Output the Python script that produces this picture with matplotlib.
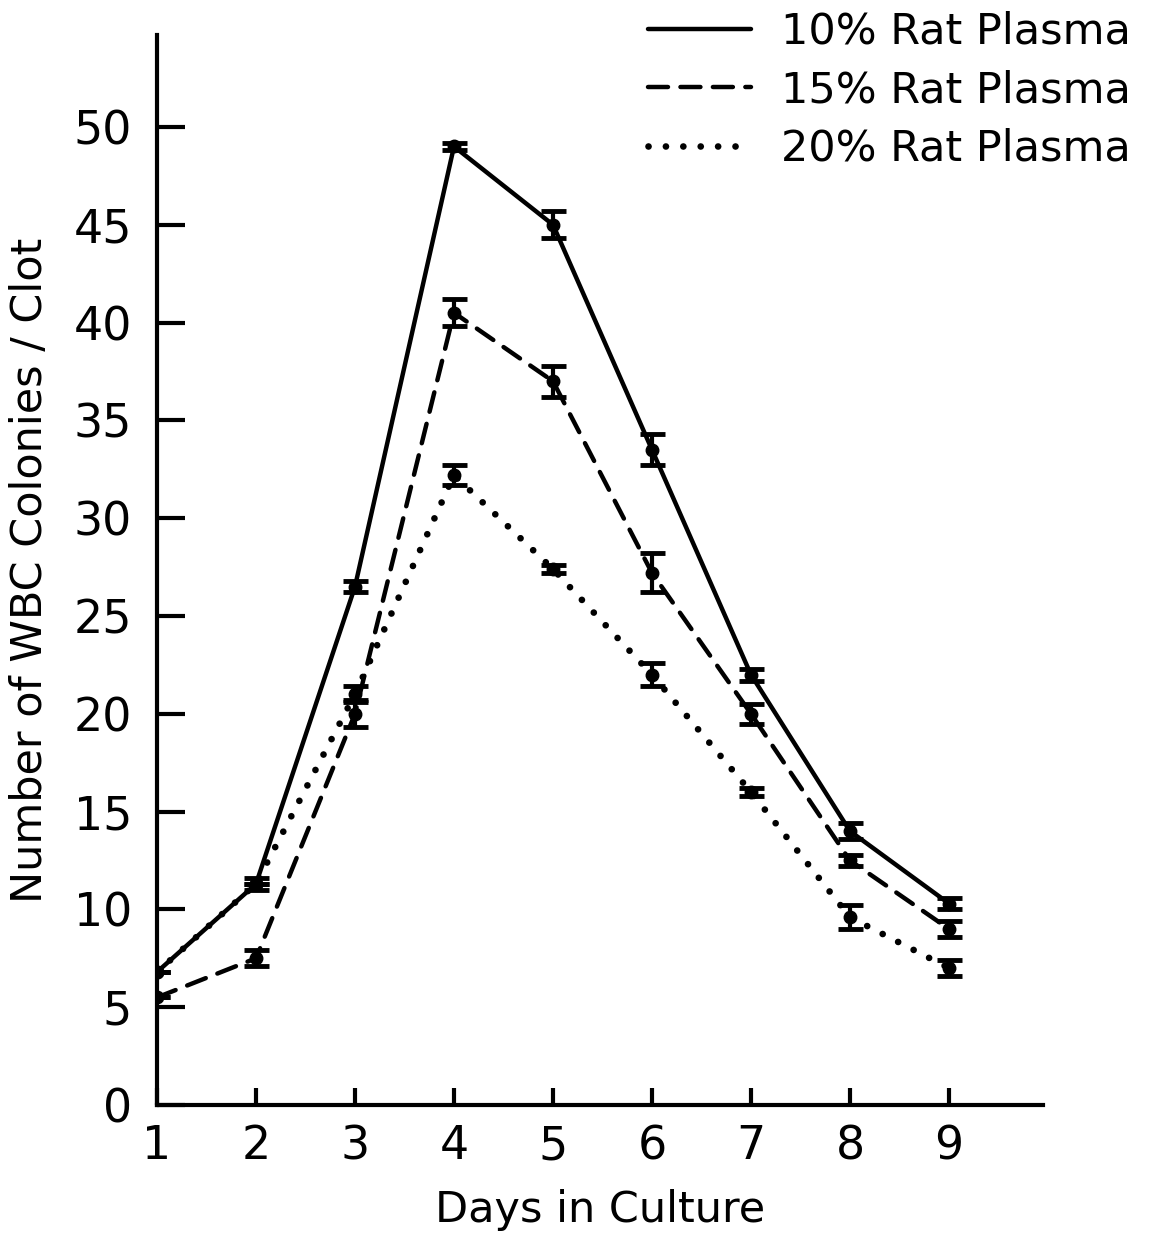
import numpy as np
import matplotlib
matplotlib.use("Agg")
import matplotlib.pyplot as plt

# valeurs
days = [1, 2, 3, 4, 5, 6, 7, 8, 9]
p10 = [6.8, 11.3, 26.5, 49.0, 45.0, 33.5, 22.0, 14.0, 10.3]
p10_err = [0.0, 0.3, 0.3, 0.2, 0.7, 0.8, 0.3, 0.4, 0.3]
p15 = [5.5, 7.5, 20.0, 40.5, 37.0, 27.2, 20.0, 12.5, 9.0]
p15_err = [0.0, 0.4, 0.7, 0.7, 0.8, 1.0, 0.5, 0.3, 0.4]
p20 = [6.8, 11.3, 21.0, 32.2, 27.4, 22.0, 16.0, 9.6, 7.0]
p20_err = [0.0, 0.0, 0.4, 0.5, 0.2, 0.6, 0.2, 0.6, 0.4]
labels = ['10% Rat Plasma', '15% Rat Plasma', '20% Rat Plasma']

plt.rcParams['font.family'] = ['DejaVu Sans']

fig = plt.figure(figsize=(11.57, 12.44), dpi=100)
ax = fig.add_axes([157/1157, 1 - 1105/1244, (1043-157)/1157, (1105-35)/1244])

styles = ['-', (0, (4.5, 2.8)), (0, (0.01, 2.6))]
widths = [3.2, 3.2, 4.8]
series = [(p10, p10_err), (p15, p15_err), (p20, p20_err)]
handles = []
for (y, e), ls, lw, lab in zip(series, styles, widths, labels):
    line, = ax.plot(days, y, color='black', linestyle=ls, linewidth=lw,
                    dash_capstyle='round', solid_capstyle='round', label=lab)
    ax.errorbar(days, y, yerr=e, fmt='o', color='black', markersize=9,
                elinewidth=3, capsize=9, capthick=3.5)
    handles.append(line)

ax.set_xlim(1, 9.95)
ax.set_ylim(0, 54.7)
ax.set_xticks(days)
ax.set_yticks(range(0, 51, 5))
ax.spines['top'].set_visible(False)
ax.spines['right'].set_visible(False)
for s in ['left', 'bottom']:
    ax.spines[s].set_linewidth(3)
ax.tick_params(direction='in', width=3, labelsize=33)
ax.tick_params(axis='x', length=12, pad=14)
ax.tick_params(axis='y', length=20, pad=18)

ax.set_xlabel('Days in Culture', fontsize=31, labelpad=14)
ax.set_ylabel('Number of WBC Colonies / Clot', fontsize=31, labelpad=16)

fig.legend(handles=handles, labels=labels, loc='upper right',
           bbox_to_anchor=(1.0, 1.012), frameon=False, fontsize=31,
           handlelength=2.4, handletextpad=0.7, labelspacing=0.38,
           borderaxespad=0.2)

plt.savefig('out.png', dpi=100)
